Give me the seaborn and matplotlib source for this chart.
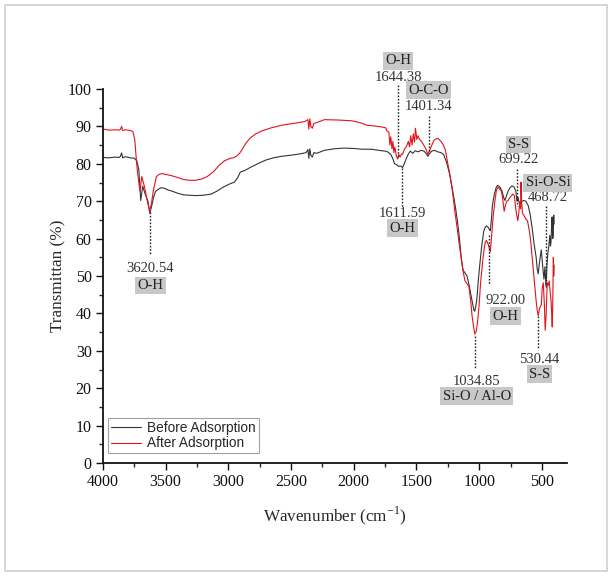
import matplotlib
matplotlib.use("Agg")
import numpy as np
import pandas as pd
import seaborn as sns
from matplotlib import pyplot as plt
from matplotlib.patches import Rectangle
from matplotlib.ticker import MultipleLocator

# FTIR spectra (wavenumber cm-1, transmittance %)
before_wn = [4000, 3950, 3900, 3870, 3860, 3850, 3842, 3820, 3780, 3750, 3729,
             3713, 3698, 3682, 3660, 3640, 3626, 3612, 3598, 3580, 3558, 3535,
             3511, 3480, 3449, 3400, 3355, 3310, 3262, 3200, 3137, 3090, 3044,
             2990, 2951, 2925, 2904, 2870, 2826, 2760, 2701, 2640, 2577, 2500,
             2421, 2380, 2365, 2358, 2350, 2342, 2330, 2318, 2296, 2234, 2160,
             2078, 2000, 1930, 1860, 1800, 1751, 1730, 1705, 1690, 1674, 1660,
             1642, 1625, 1611, 1595, 1580, 1565, 1549, 1530, 1510, 1487, 1465,
             1440, 1420, 1409, 1395, 1378, 1355, 1331, 1305, 1284, 1262, 1238,
             1215, 1191, 1175, 1160, 1145, 1129, 1113, 1098, 1082, 1067, 1055,
             1042, 1035, 1020, 1008, 995, 980, 964, 953, 942, 928, 918, 911,
             903, 895, 880, 864, 855, 845, 832, 818, 805, 795, 782, 770, 755,
             739, 722, 708, 699, 690, 683, 665, 646, 628, 609, 594, 578, 562,
             546, 538, 530, 518, 505, 495, 484, 476, 468, 460, 453, 445, 437,
             432, 428, 424, 419, 414, 410, 406, 403]
before_t = [81.7, 81.6, 81.8, 81.7, 82.0, 82.9, 81.6, 81.9, 81.6, 81.5, 80.8,
            78.5, 70.2, 74.0, 71.7, 70.0, 66.8, 68.5, 70.7, 72.6, 73.2, 73.6,
            73.5, 73.0, 72.7, 72.1, 71.7, 71.6, 71.5, 71.6, 71.9, 72.7, 73.7,
            74.6, 75.1, 76.3, 77.8, 78.2, 79.0, 80.1, 81.0, 81.6, 82.0, 82.3,
            82.7, 83.0, 83.8, 81.5, 84.0, 82.3, 81.8, 83.0, 82.8, 83.6, 84.0,
            84.2, 84.1, 83.9, 83.9, 83.6, 83.4, 83.2, 82.5, 81.5, 80.0, 79.8,
            79.3, 79.4, 79.0, 80.2, 81.5, 82.6, 83.4, 82.8, 83.5, 83.2, 83.6,
            83.4, 82.6, 82.0, 82.8, 83.4, 83.6, 83.2, 83.0, 82.5, 80.6, 77.6,
            73.5, 68.8, 65.0, 60.9, 55.5, 51.6, 50.8, 50.1, 47.8, 45.2, 43.0,
            40.8, 40.6, 43.3, 48.5, 53.1, 58.0, 61.9, 63.0, 63.4, 63.0, 62.4,
            62.1, 65.0, 68.8, 71.8, 73.7, 74.2, 74.1, 73.6, 72.7, 71.0, 70.2,
            71.5, 72.7, 73.6, 74.1, 73.8, 72.7, 70.0, 71.0, 69.7, 69.9, 70.2,
            70.0, 68.8, 66.5, 62.9, 58.5, 55.0, 52.0, 50.6, 54.0, 57.0, 53.0,
            49.2, 52.5, 47.2, 53.0, 56.0, 58.0, 60.9, 58.0, 59.0, 62.5, 65.8,
            60.0, 60.9, 66.3, 63.9]

after_wn = [4000, 3950, 3900, 3870, 3860, 3850, 3842, 3820, 3780, 3760, 3745,
            3735, 3723, 3704, 3689, 3667, 3645, 3626, 3612, 3598, 3573, 3550,
            3527, 3490, 3449, 3400, 3355, 3310, 3262, 3215, 3168, 3120, 3075,
            3030, 2982, 2960, 2935, 2910, 2888, 2860, 2826, 2780, 2732, 2660,
            2577, 2480, 2390, 2365, 2358, 2350, 2342, 2330, 2318, 2296, 2234,
            2120, 2016, 1950, 1893, 1830, 1767, 1745, 1736, 1720, 1712, 1705,
            1695, 1688, 1680, 1672, 1660, 1649, 1640, 1630, 1620, 1611, 1595,
            1580, 1565, 1555, 1545, 1535, 1525, 1515, 1508, 1497, 1488, 1475,
            1460, 1440, 1425, 1409, 1395, 1378, 1362, 1347, 1330, 1316, 1300,
            1284, 1268, 1253, 1233, 1213, 1195, 1176, 1160, 1145, 1130, 1113,
            1098, 1082, 1068, 1057, 1045, 1035, 1024, 1014, 1000, 989, 972,
            958, 950, 942, 928, 918, 911, 900, 889, 875, 864, 855, 845, 835,
            823, 812, 801, 790, 780, 770, 755, 732, 720, 708, 699, 692, 684,
            677, 670, 667, 662, 655, 640, 628, 615, 600, 590, 578, 562, 546,
            538, 530, 518, 505, 497, 489, 480, 474, 466, 458, 450, 442, 435,
            427, 422, 418, 414, 409, 406, 403]
after_t = [89.3, 89.0, 89.1, 89.0, 89.2, 90.0, 88.9, 89.1, 88.9, 88.6, 86.4,
           82.0, 77.6, 72.7, 76.6, 73.7, 70.0, 67.3, 69.5, 72.7, 76.6, 77.2,
           77.4, 77.1, 76.8, 76.3, 75.8, 75.6, 75.6, 75.9, 76.6, 77.8, 79.5,
           80.8, 81.5, 81.6, 82.0, 82.8, 83.9, 85.5, 86.9, 88.0, 88.8, 89.6,
           90.3, 90.8, 91.3, 91.8, 89.3, 92.0, 90.0, 89.5, 90.8, 91.0, 91.8,
           91.7, 91.5, 91.0, 90.3, 90.1, 89.8, 89.6, 88.8, 88.5, 85.0, 87.2,
           84.0, 86.0, 83.0, 84.5, 82.0, 81.3, 82.5, 81.8, 82.6, 82.5, 84.0,
           84.6, 86.0, 84.5, 87.5, 85.0, 88.0, 85.8, 89.5, 86.5, 87.5, 86.5,
           86.0, 84.9, 84.0, 82.5, 83.6, 84.9, 86.2, 86.6, 86.8, 86.4, 85.8,
           84.9, 83.5, 80.5, 77.0, 72.7, 67.5, 62.9, 58.7, 55.0, 51.5, 48.7,
           48.0, 47.2, 43.5, 39.4, 36.5, 34.5, 35.2, 37.4, 42.5, 48.2, 54.0,
           58.0, 59.2, 59.5, 58.5, 57.2, 56.5, 61.0, 65.8, 70.0, 72.7, 73.5,
           73.7, 73.2, 72.7, 70.5, 67.3, 69.0, 70.0, 70.2, 71.0, 71.9, 71.5,
           67.8, 66.0, 64.8, 67.0, 69.7, 68.0, 75.1, 70.0, 66.8, 66.0, 65.2,
           64.8, 62.0, 59.5, 55.0, 49.0, 43.3, 41.0, 39.4, 41.5, 42.3, 47.0,
           48.2, 42.0, 35.5, 40.0, 48.2, 47.5, 48.7, 46.0, 43.3, 40.0, 36.4,
           42.0, 55.0, 50.0, 52.9]

# peak annotations: wavenumber, number text, bond label
peak_wn = [3620.54, 1644.38, 1401.34, 1611.59, 1034.85, 922.00, 699.22, 530.44, 468.72]
peak_bond = ["O-H", "O-H", "O-C-O", "O-H", "Si-O / Al-O", "O-H", "S-S", "S-S", "Si-O-Si"]

sns.set_style("ticks")
plt.rcParams["font.family"] = ["Liberation Serif", "DejaVu Serif"]

fig = plt.figure(figsize=(6.12, 5.76), dpi=100)
fig.patches.append(Rectangle((0.008, 0.008), 0.984, 0.984, transform=fig.transFigure,
                             fill=False, edgecolor="#d0d0d0", linewidth=1.2))
ax = fig.add_axes([0.168, 0.196, 0.7585, 0.6495])

before = pd.DataFrame({"wn": before_wn, "t": before_t})
after = pd.DataFrame({"wn": after_wn, "t": after_t})
sns.lineplot(data=before, x="wn", y="t", ax=ax, color="#333333", linewidth=0.8,
             estimator=None, sort=False, label="Before Adsorption")
sns.lineplot(data=after, x="wn", y="t", ax=ax, color="#e3121b", linewidth=0.8,
             estimator=None, sort=False, label="After Adsorption")

ax.set_xlim(4000, 300)
ax.set_ylim(0, 100)
ax.xaxis.set_major_locator(MultipleLocator(500))
ax.xaxis.set_minor_locator(MultipleLocator(250))
ax.yaxis.set_major_locator(MultipleLocator(10))
ax.yaxis.set_minor_locator(MultipleLocator(5))
ax.set_xticks([4000, 3500, 3000, 2500, 2000, 1500, 1000, 500])
ax.tick_params(which="major", direction="out", length=5, width=1, labelsize=11.5,
               colors="#111111", pad=3)
ax.tick_params(which="minor", direction="out", length=3, width=1)
for s in ["left", "bottom"]:
    ax.spines[s].set_linewidth(1.3)
    ax.spines[s].set_color("#111111")
sns.despine(ax=ax)

ax.set_xlabel("Wavenumber (cm$^{\\mathregular{-1}}$)", fontsize=12.3, labelpad=10)
ax.set_ylabel("Transmittan (%)", fontsize=12.3, labelpad=1)

# annotation layout: line top, line bottom, number y, label y, text x
ann = [
    (67.0, 55.5, 52.0, 47.4, 3620.54),
    (101.0, 81.5, 103.1, 107.5, 1644.38),
    (92.7, 83.4, 95.3, 99.7, 1401.34),
    (79.0, 68.3, 66.8, 62.8, 1611.59),
    (34.0, 25.2, 21.9, 17.9, 1020.0),
    (61.0, 47.7, 43.4, 39.3, 790.0),
    (78.6, 68.8, 81.2, 85.2, 686.0),
    (39.4, 30.6, 27.8, 23.8, 520.0),
    (68.8, 47.2, 71.0, 74.9, 453.0),
]
box = dict(boxstyle="square,pad=0.15", facecolor="#c8c8c8", edgecolor="none")
for wn, bond, (y0, y1, ynum, ylab, xt) in zip(peak_wn, peak_bond, ann):
    ax.plot([wn, wn], [y0, y1], color="#222222", linestyle=(0, (1.2, 1.2)),
            linewidth=1.0, clip_on=False)
    ax.text(xt, ynum, f"{wn:.2f}", ha="center", va="center", fontsize=10.5,
            color="#333333", clip_on=False)
    ax.text(xt, ylab, bond, ha="center", va="center", fontsize=10.5,
            color="#222222", bbox=box, clip_on=False)

leg = ax.legend(loc="lower left", bbox_to_anchor=(0.011, 0.027), frameon=True,
                fancybox=False, borderpad=0.2, handlelength=2.2, handletextpad=0.5,
                labelspacing=0.1, borderaxespad=0,
                prop={"family": "Liberation Sans", "size": 9.8})
leg.get_frame().set_edgecolor("#888888")
leg.get_frame().set_linewidth(0.8)

fig.savefig("out.png", dpi=100)
